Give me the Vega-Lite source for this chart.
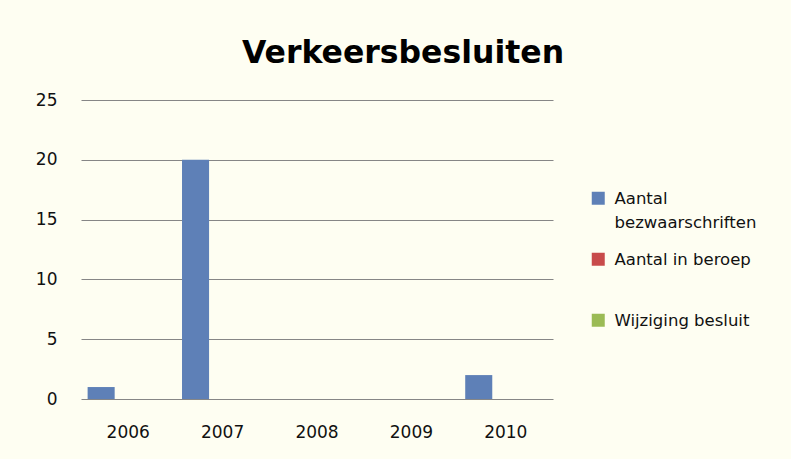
{
  "$schema": "https://vega.github.io/schema/vega-lite/v6.json",
  "width": 472,
  "height": 299,
  "autosize": {"type": "none"},
  "padding": {"left": 81, "top": 100, "right": 238, "bottom": 60},
  "background": "#FEFEF2",
  "title": {
    "text": "Verkeersbesluiten",
    "font": "DejaVu Sans",
    "fontSize": 31.5,
    "fontWeight": "bold",
    "color": "#000000",
    "anchor": "middle",
    "dx": 86,
    "offset": 22
  },
  "data": {
    "values": [
      {"year": "2006", "series": "Aantal bezwaarschriften", "value": 1},
      {"year": "2006", "series": "Aantal in beroep", "value": 0},
      {"year": "2006", "series": "Wijziging besluit", "value": 0},
      {"year": "2007", "series": "Aantal bezwaarschriften", "value": 20},
      {"year": "2007", "series": "Aantal in beroep", "value": 0},
      {"year": "2007", "series": "Wijziging besluit", "value": 0},
      {"year": "2008", "series": "Aantal bezwaarschriften", "value": 0},
      {"year": "2008", "series": "Aantal in beroep", "value": 0},
      {"year": "2008", "series": "Wijziging besluit", "value": 0},
      {"year": "2009", "series": "Aantal bezwaarschriften", "value": 0},
      {"year": "2009", "series": "Aantal in beroep", "value": 0},
      {"year": "2009", "series": "Wijziging besluit", "value": 0},
      {"year": "2010", "series": "Aantal bezwaarschriften", "value": 2},
      {"year": "2010", "series": "Aantal in beroep", "value": 0},
      {"year": "2010", "series": "Wijziging besluit", "value": 0}
    ]
  },
  "mark": {"type": "bar"},
  "encoding": {
    "x": {
      "field": "year",
      "type": "nominal",
      "scale": {"paddingInner": 0.14, "paddingOuter": 0.07},
      "axis": {
        "title": null,
        "labelAngle": 0,
        "labelFont": "DejaVu Sans",
        "labelFontSize": 17,
        "labelColor": "#111111",
        "labelPadding": 25,
        "ticks": false,
        "domain": false,
        "grid": false
      }
    },
    "xOffset": {"field": "series", "type": "nominal"},
    "y": {
      "field": "value",
      "type": "quantitative",
      "scale": {"domain": [0, 25]},
      "axis": {
        "title": null,
        "values": [0, 5, 10, 15, 20, 25],
        "labelFont": "DejaVu Sans",
        "labelFontSize": 17,
        "labelColor": "#111111",
        "labelPadding": 24,
        "ticks": false,
        "domain": false,
        "grid": true,
        "gridColor": "#868686",
        "gridWidth": 1,
        "gridOpacity": 1
      }
    },
    "color": {
      "field": "series",
      "type": "nominal",
      "scale": {
        "domain": ["Aantal bezwaarschriften", "Aantal in beroep", "Wijziging besluit"],
        "range": ["#5E80B7", "#C84B4B", "#9BBB55"]
      },
      "legend": {
        "title": null,
        "orient": "none",
        "legendX": 509,
        "legendY": 90,
        "symbolType": "square",
        "symbolSize": 169,
        "symbolOpacity": 1,
        "symbolStrokeWidth": 0,
        "labelFont": "DejaVu Sans",
        "labelFontSize": 16.5,
        "labelColor": "#111111",
        "labelOffset": 8,
        "rowPadding": 19,
        "labelBaseline": "top",
        "labelLimit": 250,
        "labelExpr": "datum.label == 'Aantal bezwaarschriften' ? ['Aantal', 'bezwaarschriften'] : [datum.label, '']",
        "encode": {
          "labels": {
            "update": {
              "dy": {"value": -7},
              "lineHeight": {"value": 24}
            }
          }
        }
      }
    }
  },
  "config": {
    "view": {"stroke": null}
  }
}
